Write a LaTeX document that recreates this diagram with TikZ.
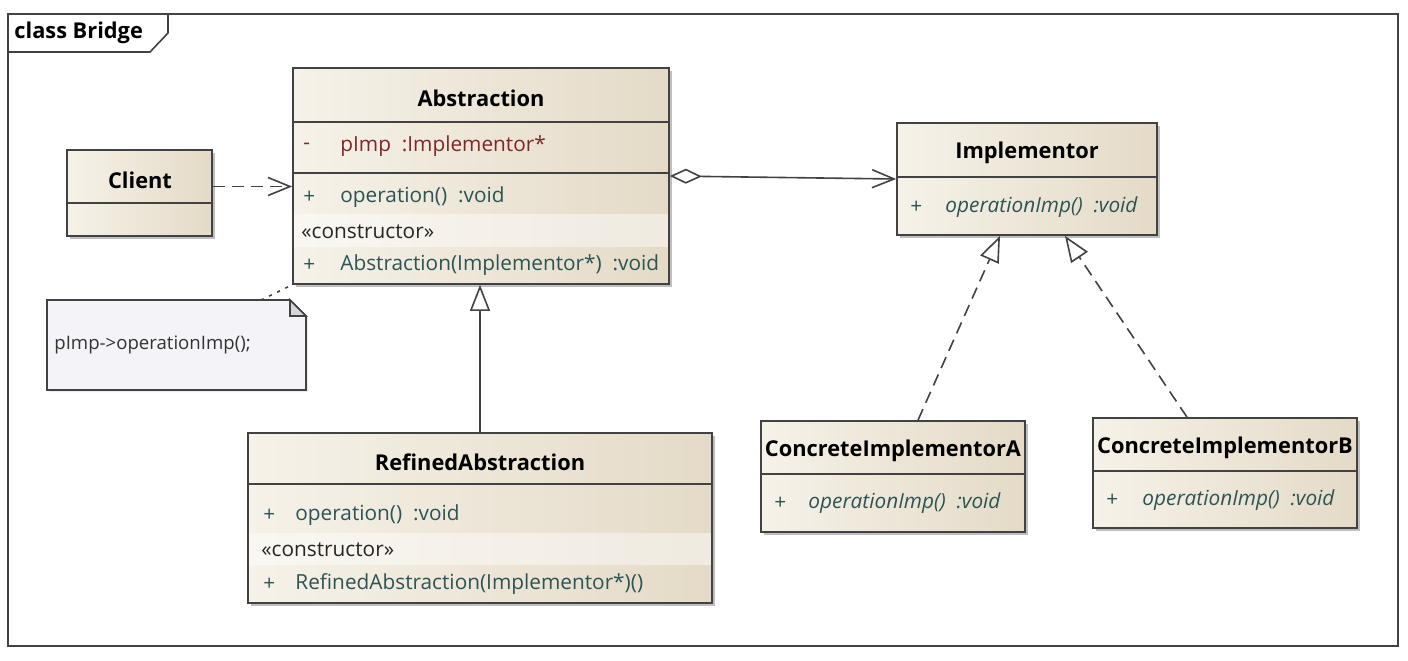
\documentclass[tikz,border=0pt]{standalone}
\usepackage{fontspec}
\setmainfont{Open Sans}
\usetikzlibrary{arrows.meta, positioning, fit, shadows}
\definecolor{umlleft}{RGB}{246,242,233}
\definecolor{umlright}{RGB}{228,218,199}
\definecolor{umlline}{RGB}{66,66,66}
\definecolor{attrred}{RGB}{125,40,40}
\definecolor{opteal}{RGB}{44,84,84}
\definecolor{notefill}{RGB}{243,243,248}
\definecolor{foldgray}{RGB}{214,214,214}
\tikzset{classbox/.style={rectangle, draw=umlline, line width=0.85pt, left color=umlleft, right color=umlright, inner sep=0pt, drop shadow={shadow xshift=1.5pt, shadow yshift=-1.5pt, fill=black, opacity=0.25}},
classname/.style={font=\bfseries\fontsize{10.9}{13}\selectfont, inner sep=0pt},
member/.style={anchor=west, inner sep=0pt, font=\fontsize{10.4}{12}\selectfont}}

\begin{document}
\begin{tikzpicture}[
        x=0.5pt, y=-0.5pt,
        compartment/.style={umlline, line width=0.85pt},
        ctorband/.style={white, opacity=0.45},
        framestyle/.style={draw=umlline, line width=0.8pt},
        dep/.style={umlline, line width=0.8pt, dash pattern=on 6pt off 3.5pt, -{Straight Barb[length=11pt, width=9pt]}},
        assoc/.style={umlline, line width=0.8pt, {Diamond[fill=white, length=16pt, width=7.5pt]}-{Straight Barb[length=11pt, width=9pt]}},
        gen/.style={umlline, line width=0.8pt, -{Triangle[fill=white, length=13pt, width=10pt]}},
        real/.style={gen, dash pattern=on 6pt off 3.5pt},
        notelink/.style={umlline, line width=0.8pt, dash pattern=on 1.5pt off 3pt},
    ]
        \useasboundingbox[fill=white] (0,0) rectangle (1408,660);
        % Frame
        \draw[framestyle] (8,14) rectangle (1398,646);
        \draw[framestyle] (8,52) -- (150,52) -- (168,33) -- (168,14);
        \node[classname, anchor=west] (framelabel) at (14,33) {class Bridge};
        % Classes
        \node[classbox, fit={(293,68) (669,284)}] (abs) {};
        \node[classbox, fit={(67,150) (212,236)}] (cli) {};
        \node[classbox, fit={(897,123) (1157,235)}] (impl) {};
        \node[classbox, fit={(248,433) (712,603)}] (ref) {};
        \node[classbox, fit={(761,421) (1025,532)}] (ca) {};
        \node[classbox, fit={(1093,418) (1357,528)}] (cb) {};
        % Compartments
        \fill[ctorband] (294,214) rectangle (668,247);
        \fill[ctorband] (249,533) rectangle (711,565);
        \draw[compartment] (293,122) -- (669,122);
        \draw[compartment] (293,173) -- (669,173);
        \draw[compartment] (67,203) -- (212,203);
        \draw[compartment] (897,177) -- (1157,177);
        \draw[compartment] (248,484) -- (712,484);
        \draw[compartment] (761,474) -- (1025,474);
        \draw[compartment] (1093,471) -- (1357,471);
        % Class names
        \node[classname] (absname) at (481,98) {Abstraction};
        \node[classname] (cliname) at (140,180) {Client};
        \node[classname] (implname) at (1027,153) {Implementor};
        \node[classname] (refname) at (480,462) {RefinedAbstraction};
        \node[classname] (caname) at (893,451) {ConcreteImplementorA};
        \node[classname] (cbname) at (1225,448) {ConcreteImplementorB};
        % Visibility markers
        \node[member, attrred] (vis-absattr) at (303,146) {-};
        \foreach \vx/\vy/\vname in {303/197/absop, 303/265/absctor, 263/515/refop, 263/584/refctor, 910/207/implop, 774/503/caop, 1106/500/cbop} {
            \node[member, opteal] (vis-\vname) at (\vx,\vy) {+};
        }
        % Members
        \node[member, attrred] (absattr) at (340,146) {pImp\ \ :Implementor*};
        \node[member, opteal] (absop) at (340,197) {operation()\ \ :void};
        \node[member, black!85] (absstereo) at (301,232) {«constructor»};
        \node[member, opteal] (absctor) at (340,265) {Abstraction(Implementor*)\ \ :void};
        \node[member, opteal] (refop) at (295,515) {operation()\ \ :void};
        \node[member, black!85] (refstereo) at (261,550) {«constructor»};
        \node[member, opteal] (refctor) at (295,584) {RefinedAbstraction(Implementor*)()};
        \node[member, opteal, font=\itshape\fontsize{10.4}{12}\selectfont] (implop) at (945,207) {operationImp()\ \ :void};
        \node[member, opteal, font=\itshape\fontsize{10.4}{12}\selectfont] (caop) at (808,503) {operationImp()\ \ :void};
        \node[member, opteal, font=\itshape\fontsize{10.4}{12}\selectfont] (cbop) at (1142,500) {operationImp()\ \ :void};
        % Note
        \filldraw[draw=umlline, line width=0.8pt, fill=notefill, drop shadow={shadow xshift=1pt, shadow yshift=-1pt, opacity=0.15}] (47,300) -- (290,300) -- (306,316) -- (306,390) -- (47,390) -- cycle;
        \filldraw[draw=umlline, line width=0.8pt, fill=foldgray] (290,300) -- (290,316) -- (306,316) -- cycle;
        \node[member, black!80, font=\fontsize{9.3}{11}\selectfont] (notetext) at (54,345) {pImp->operationImp();};
        \coordinate (notetop) at (261,300);
        % Relations
        \draw[dep] ([yshift=3.25pt]cli.east) -- ([yshift=3.25pt]cli.east -| abs.west);
        \draw[assoc] (abs.east) -- (impl.west);
        \draw[gen] (ref.north) -- (ref.north |- abs.south);
        \draw[real] ([xshift=12.5pt]ca.north) -- ([xshift=-13.5pt]impl.south);
        \draw[real] ([xshift=-19pt]cb.north) -- ([xshift=19pt]impl.south);
        \draw[notelink] (notetop) -- (abs.south west);
    \end{tikzpicture}
\end{document}
